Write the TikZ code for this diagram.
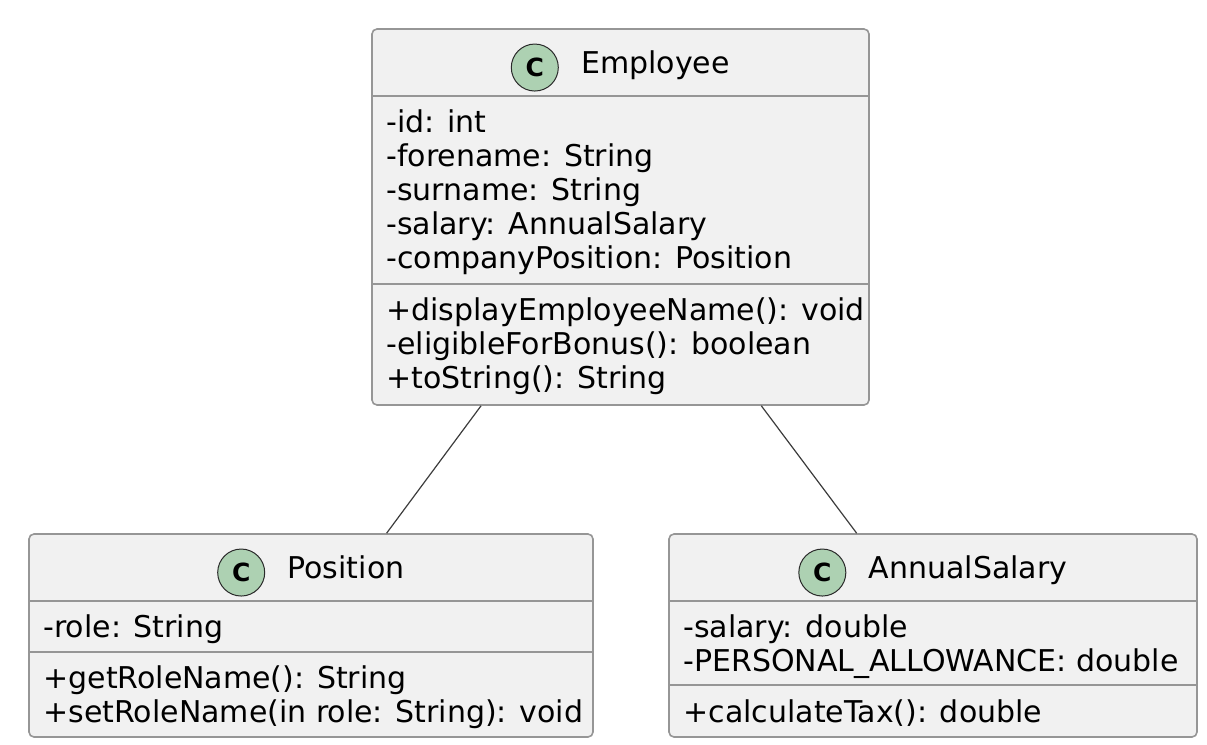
\documentclass[tikz,border=0pt]{standalone}
\usepackage{fontspec}
\setmainfont{DejaVu Sans}
\usetikzlibrary{positioning}

\definecolor{classfill}{HTML}{F1F1F1}
\definecolor{classline}{HTML}{969696}
\definecolor{markfill}{HTML}{ADD1B2}
\definecolor{markline}{HTML}{2A2A2A}
\definecolor{assocline}{HTML}{3C3C3C}

\begin{document}
\begin{tikzpicture}[x=0.5pt,y=-0.5pt,
  classbox/.style={draw=classline,fill=classfill,line width=0.8pt,
      rounded corners=2.5pt,inner sep=0pt},
  classsep/.style={draw=classline,line width=0.8pt},
  classname/.style={anchor=base,inner sep=0pt,font=\fontsize{15}{17}\selectfont},
  classmark/.style={circle,draw=markline,fill=markfill,line width=0.5pt,
      minimum size=23.5pt,inner sep=0pt,font=\bfseries\fontsize{12.5}{14}\selectfont},
  members/.style={anchor=base west,inner sep=0pt,align=left,
      font=\fontsize{15}{17}\selectfont},
  assoc/.style={draw=assocline,line width=0.6pt}]
  \useasboundingbox (0,0) rectangle (1207,745);

  % Class boxes
  \node[classbox,minimum width=248.5pt,minimum height=188pt] (employee) at (620.5,217) {};
  \node[classbox,minimum width=282pt,minimum height=101.5pt] (position) at (311,635.5) {};
  \node[classbox,minimum width=264pt,minimum height=101.5pt] (salary) at (933,635.5) {};

  % Compartment lines
  \draw[classsep] ([yshift=-34pt]employee.north west) -- ([yshift=-34pt]employee.north east);
  \draw[classsep] ([yshift=-128pt]employee.north west) -- ([yshift=-128pt]employee.north east);
  \draw[classsep] ([yshift=-34pt]position.north west) -- ([yshift=-34pt]position.north east);
  \draw[classsep] ([yshift=-59.5pt]position.north west) -- ([yshift=-59.5pt]position.north east);
  \draw[classsep] ([yshift=-34pt]salary.north west) -- ([yshift=-34pt]salary.north east);
  \draw[classsep] ([yshift=-76pt]salary.north west) -- ([yshift=-76pt]salary.north east);

  % Headers
  \node[classname] (employee-name) at (655.5,73) {Employee};
  \node[classmark,left=11pt of employee-name.mid west] (employee-mark) {C};
  \node[classname] (position-name) at (346,578) {Position};
  \node[classmark,left=11pt of position-name.mid west] (position-mark) {C};
  \node[classname] (salary-name) at (968,578) {AnnualSalary};
  \node[classmark,left=11pt of salary-name.mid west] (salary-mark) {C};

  % Members (anchored at the last line)
  \node[members] (employee-attr) at (386,268) {-id: int\\-forename: String\\-surname: String\\-salary: AnnualSalary\\-companyPosition: Position};
  \node[members] (employee-ops) at (386,388) {+displayEmployeeName(): void\\-eligibleForBonus(): boolean\\+toString(): String};
  \node[members] (position-attr) at (43,637) {-role: String};
  \node[members] (position-ops) at (43,722) {+getRoleName(): String\\+setRoleName(in role: String): void};
  \node[members] (salary-attr) at (683,671) {-salary: double\\-PERSONAL\_ALLOWANCE: double};
  \node[members] (salary-ops) at (683,722) {+calculateTax(): double};

  % Associations
  \path[assoc]
    (employee) edge (position)
    (employee) edge (salary);
\end{tikzpicture}
\end{document}
